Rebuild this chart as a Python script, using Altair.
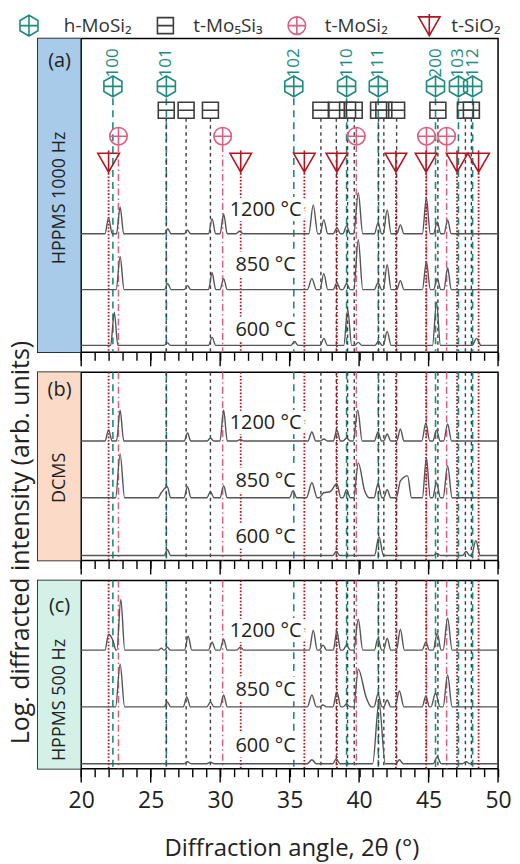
import altair as alt
import pandas as pd

FONT = "Open Sans, Noto Sans, DejaVu Sans, sans-serif"

# ---------------- data ----------------
PHASES = ["h-MoSi₂", "t-Mo₅Si₃", "t-MoSi₂", "t-SiO₂"]
H_MOSI2_POS = [22.28, 26.13, 35.3, 39.1, 41.38, 45.5, 47.15, 48.17]
H_MOSI2_HKL = ["100", "101", "102", "110", "111", "200", "103", "112"]
MO5SI3_POS = [26.12, 27.55, 29.3, 37.25, 38.36, 39.17, 39.65, 41.4, 41.78, 42.7, 45.67, 47.65, 48.08]
T_MOSI2_POS = [22.68, 30.18, 39.8, 44.85, 46.3]
SIO2_POS = [21.97, 31.48, 36.06, 38.4, 42.65, 44.82, 47.05, 48.6]
PHASE_POS = dict(zip(PHASES, [H_MOSI2_POS, MO5SI3_POS, T_MOSI2_POS, SIO2_POS]))

PANELS = ["a", "b", "c"]
PANEL_NAMES = {"a": "HPPMS 1000 Hz", "b": "DCMS", "c": "HPPMS 500 Hz"}
TEMPS = ["1200 °C", "850 °C", "600 °C"]
MAJOR_TICKS = [20, 25, 30, 35, 40, 45, 50]
ALL_TICKS = list(range(20, 51))

# peaks: (2θ, intensity above own baseline, half width)
A_1200 = [(21.97, 16, .2), (22.8, 27, .2), (26.23, 5, .18), (27.65, 3.5, .18), (29.42, 15, .2),
          (30.25, 20, .2), (31.4, 2.5, .2), (36.7, 29, .25), (37.46, 14, .22), (38.4, 6, .2),
          (39.1, 8, .2), (39.94, 41, .25), (41.36, 11, .2), (42.02, 24, .22), (42.97, 9, .2),
          (44.84, 36, .22), (45.62, 12, .2), (46.37, 14, .2)]
A_850 = [(22.8, 33, .22), (26.23, 6, .18), (27.65, 4, .18), (29.42, 17, .2), (30.25, 11, .2),
         (36.6, 11, .25), (37.46, 16, .22), (38.4, 7, .2), (39.1, 6, .2), (39.94, 50, .25),
         (41.36, 7, .2), (42.02, 25, .22), (42.97, 9, .2), (44.84, 28, .22), (45.62, 11, .2),
         (46.37, 22, .2)]
A_600 = [(22.38, 33, .2), (26.2, 2.5, .18), (29.42, 8, .2), (35.35, 4, .2), (37.46, 7, .2),
         (39.18, 36, .22), (39.94, 3, .2), (41.4, 4, .2), (42.02, 14, .22), (45.57, 43, .22),
         (48.45, 7, .25)]
B_1200 = [(21.97, 11, .2), (22.8, 31, .2), (27.65, 8, .18), (29.3, 3, .18), (30.25, 31, .2),
          (31.45, 1.5, .2), (36.6, 9, .22), (37.46, 2, .2), (38.4, 11, .2), (39.1, 3, .2),
          (39.9, 31, .25), (41.36, 9, .2), (42.02, 7, .2), (42.97, 12, .2), (44.8, 18, .22),
          (45.57, 11, .2), (46.37, 17, .22)]
B_850 = [(22.8, 44, .25), (25.76, 5, .18), (26.2, 11, .18), (27.65, 11, .2), (29.3, 6, .2),
         (30.25, 12, .2), (35.25, 7, .2), (36.6, 15, .3), (37.46, 5, .25), (37.9, 6, .2),
         (38.4, 14, .22), (39.1, 8, .2), (39.94, 35, .25), (40.4, 7, .25), (41.36, 14, .22),
         (42.02, 8, .2), (42.97, 17, .22), (43.49, 22, .22), (44.84, 40, .22), (45.57, 15, .22),
         (46.37, 32, .25)]
B_600 = [(26.2, 6, .18), (38.36, 4, .2), (41.43, 19, .25), (45.6, 2, .2), (47.7, 4, .2),
         (48.4, 15, .25)]
C_1200 = [(21.97, 16, .2), (22.3, 9, .15), (22.85, 51, .22), (25.76, 2, .15), (26.2, 3, .15),
          (27.7, 14, .2), (29.42, 8, .2), (30.25, 11, .2), (31.45, 3, .2), (36.7, 20, .22),
          (37.4, 5, .2), (38.4, 19, .2), (39.1, 5, .2), (39.94, 31, .25), (41.36, 12, .2),
          (42.02, 12, .2), (42.97, 21, .22), (44.8, 8, .2), (45.62, 17, .22), (46.37, 32, .25)]
C_850 = [(22.8, 43, .25), (26.2, 5, .18), (27.6, 10, .2), (29.3, 5, .2), (30.25, 12, .2),
         (36.6, 12, .25), (37.4, 2, .2), (38.4, 15, .22), (39.1, 3, .2), (39.94, 38, .25),
         (40.5, 10, .3), (41.36, 13, .22), (42.02, 7, .2), (42.9, 16, .25), (44.8, 11, .2),
         (45.5, 14, .25), (46.37, 32, .25)]
C_600 = [(27.65, 2, .2), (29.3, 1.5, .2), (36.6, 4, .25), (38.36, 5, .2), (41.43, 62, .35),
         (42.9, 4, .2), (45.62, 7, .22), (47.7, 2, .2)]

PEAKS = {
    ("a", "1200 °C"): A_1200, ("a", "850 °C"): A_850, ("a", "600 °C"): A_600,
    ("b", "1200 °C"): B_1200, ("b", "850 °C"): B_850, ("b", "600 °C"): B_600,
    ("c", "1200 °C"): C_1200, ("c", "850 °C"): C_850, ("c", "600 °C"): C_600,
}

# ---------------- layout / style ----------------
W = 462
STRIP_W = 43.5
PX_PER_DEG = (W - STRIP_W) / 30
X0 = 20 - STRIP_W / PX_PER_DEG
STRIP_X = 20 - STRIP_W / 2 / PX_PER_DEG
YTITLE_X = 20 - (STRIP_W + 29) / PX_PER_DEG
PEAK_W = 1.3
PANEL_H = {"a": 315, "b": 189, "c": 189}
OFFSET = {"a": [119, 63, 7], "b": [120, 63, 5], "c": [119, 62, 5]}
TEMP_X = 33.27
TEMP_Y = {"a": [142.5, 87.5, 22.5], "b": [138.5, 79.5, 23.5], "c": [138.5, 78.5, 22.5]}
LETTER_Y = {"a": 292, "b": 171, "c": 163}
NAME_Y = {"a": 155, "b": 83, "c": 69}
STRIP_COL = {"a": "#a7cbe8", "b": "#fbdbc7", "c": "#d3f1e6"}
# legend row (placed above panel a, in its coordinates)
LEG_SYM_X = [16.24, 26.06, 35.52, 45.05]
LEG_LAB_X = [18.75, 28.06, 37.53, 46.63]
LEG_DY = 13

TEAL, GRAY, PINK, RED = "#1d8b80", "#3d3d3d", "#dc5f80", "#b3141e"
COLORS = [TEAL, GRAY, PINK, RED]
LINE_STYLE = {
    "h-MoSi₂": dict(color=TEAL, strokeDash=[7, 5], strokeWidth=1.6),
    "t-Mo₅Si₃": dict(color=GRAY, strokeDash=[3.5, 3.5], strokeWidth=1.4),
    "t-MoSi₂": dict(color=PINK, strokeDash=[7, 3, 1.5, 3], strokeWidth=1.5),
    "t-SiO₂": dict(color=RED, strokeDash=[1.6, 1.8], strokeWidth=1.8),
}
HEX = "M0,-1.3L1.13,-0.65L1.13,0.65L0,1.3L-1.13,0.65L-1.13,-0.65Z M0,-1.3L0,1.3 M-1.13,0L1.13,0"
SQR = "M-1,-1L1,-1L1,1L-1,1Z M-1,0L1,0"
CIR = "M-1.1,0A1.1,1.1,0,1,0,1.1,0A1.1,1.1,0,1,0,-1.1,0Z M-1.1,0L1.1,0 M0,-1.1L0,1.1"
TRI = "M-1.35,-1.1L1.35,-1.1L0,1.25Z M0,-1.45L0,1.25"
PATHS = [HEX, SQR, CIR, TRI]
MARKER_Y = {"h-MoSi₂": 267, "t-Mo₅Si₃": 243, "t-MoSi₂": 217, "t-SiO₂": 191}
LINE_TOP_A = {"h-MoSi₂": 255, "t-Mo₅Si₃": 235, "t-MoSi₂": 208, "t-SiO₂": 180}
HKL_Y = 276
YTITLE_Y = 18


def build(peaks):
    pk = [(c, h, w * PEAK_W) for c, h, w in peaks]
    pts = [(20.0, 0.0), (50.0, 0.0)]
    for c, h, w in pk:
        pts.append((c, h))
        for b in (c - w, c + w):
            inside = any(c2 - w2 < b < c2 + w2 for c2, _, w2 in pk if c2 != c)
            if not inside:
                pts.append((b, 0.0))
    pts.sort()
    return pts


rows = []
for (p, t), pk in PEAKS.items():
    off = OFFSET[p][TEMPS.index(t)]
    for x, v in build(pk):
        rows.append({"panel": p, "temp": t, "x": x, "y": v + off})
curve_df = pd.DataFrame(rows)


def xaxis(p):
    common = dict(values=ALL_TICKS, tickSize=8, tickColor="black", tickWidth=1.4,
                  domain=False, grid=False)
    if p == "c":
        return alt.Axis(**common, labels=True,
                        labelExpr="datum.value % 5 === 0 ? datum.label : ''",
                        labelFont=FONT, labelFontSize=23, labelColor="#222", labelPadding=13,
                        labelFlush=False, labelOverlap=False,
                        title="Diffraction angle, 2θ (°)", titleFont=FONT, titleFontSize=24,
                        titleFontWeight="normal", titleColor="#222", titleX=254.5, titleY=80,
                        titleBaseline="middle", titleAlign="center")
    return alt.Axis(**common, labels=False, title=None)


COLOR_SCALE = alt.Scale(domain=PHASES, range=COLORS)
SHAPE_SCALE = alt.Scale(domain=PHASES, range=PATHS)


def panel(p):
    H = PANEL_H[p]
    xs = alt.Scale(domain=[X0, 50], nice=False, zero=False)
    ys = alt.Scale(domain=[0, H], nice=False, zero=False)
    ax = xaxis(p)

    def X(f):
        return alt.X(f, scale=xs, axis=ax, title=ax.title if p == "c" else None)

    def Y(f):
        return alt.Y(f, scale=ys, axis=None)

    layers = []
    layers.append(alt.Chart(pd.DataFrame({"k": [0]})).mark_rect(color=STRIP_COL[p]).encode(
        x=alt.value(0), x2=alt.value(STRIP_W), y=alt.value(0), y2=alt.value(H)))
    layers.append(alt.Chart(pd.DataFrame({"x": [20]})).mark_rule(color="black", strokeWidth=1.4).encode(
        x=X("x:Q")))
    # longer major ticks
    layers.append(alt.Chart(pd.DataFrame({"x": MAJOR_TICKS})).mark_rule(color="black", strokeWidth=1.4).encode(
        x=X("x:Q"), y=alt.value(H), y2=alt.value(H + 14)))

    for ph in PHASES:
        pos = PHASE_POS[ph]
        df = pd.DataFrame({"x": pos, "top": [LINE_TOP_A[ph]] * len(pos), "bot": [0] * len(pos)})
        enc = dict(x=X("x:Q"))
        if p == "a":
            enc.update(y=Y("top:Q"), y2="bot:Q")
        layers.append(alt.Chart(df).mark_rule(**LINE_STYLE[ph]).encode(**enc))

    tl = pd.DataFrame({"temp": TEMPS, "x": [TEMP_X] * 3, "y": TEMP_Y[p]})
    layers.append(alt.Chart(tl).mark_text(font=FONT, fontSize=20, color="white", stroke="white",
                                          strokeWidth=11, strokeJoin="round").encode(
        x=X("x:Q"), y=Y("y:Q"), text="temp:N"))
    layers.append(alt.Chart(tl).mark_text(font=FONT, fontSize=20, color="#222").encode(
        x=X("x:Q"), y=Y("y:Q"), text="temp:N"))

    layers.append(alt.Chart(curve_df[curve_df.panel == p]).mark_line(
        color="#555555", strokeWidth=1.4, interpolate="monotone").encode(
        x=X("x:Q"), y=Y("y:Q"), detail="temp:N"))

    st = pd.DataFrame({"x": [STRIP_X, STRIP_X], "y": [LETTER_Y[p], NAME_Y[p]],
                       "t": [f"({p})", PANEL_NAMES[p]]})
    layers.append(alt.Chart(st.iloc[[0]]).mark_text(font=FONT, fontSize=20, color="#222").encode(
        x=X("x:Q"), y=Y("y:Q"), text="t:N"))
    layers.append(alt.Chart(st.iloc[[1]]).mark_text(font=FONT, fontSize=18, color="#222", angle=270,
                                                     align="center", baseline="middle").encode(
        x=X("x:Q"), y=Y("y:Q"), text="t:N"))

    if p == "a":
        mk_rows = []
        for ph in PHASES:
            for x in PHASE_POS[ph]:
                mk_rows.append({"phase": ph, "x": x, "y": MARKER_Y[ph]})
        mk = pd.DataFrame(mk_rows)
        layers.append(alt.Chart(mk).mark_point(size=256, strokeWidth=1.6, opacity=1, filled=False).encode(
            x=X("x:Q"), y=Y("y:Q"),
            color=alt.Color("phase:N", scale=COLOR_SCALE, legend=None),
            shape=alt.Shape("phase:N", scale=SHAPE_SCALE, legend=None)))
        hk = pd.DataFrame({"x": H_MOSI2_POS, "hkl": H_MOSI2_HKL, "y": [HKL_Y] * len(H_MOSI2_POS)})
        layers.append(alt.Chart(hk).mark_text(font=FONT, fontSize=17, color=TEAL, angle=270,
                                              align="left", baseline="middle").encode(
            x=X("x:Q"), y=Y("y:Q"), text="hkl:N"))
        # legend row above the panel
        lg = pd.DataFrame({"phase": PHASES, "x": LEG_SYM_X, "lx": LEG_LAB_X, "y": [H + LEG_DY] * 4})
        layers.append(alt.Chart(lg).mark_point(size=256, strokeWidth=1.6, opacity=1, filled=False).encode(
            x=X("x:Q"), y=Y("y:Q"),
            color=alt.Color("phase:N", scale=COLOR_SCALE, legend=None),
            shape=alt.Shape("phase:N", scale=SHAPE_SCALE, legend=None)))
        layers.append(alt.Chart(lg.drop(columns=["x"]).rename(columns={"lx": "x"})).mark_text(
            font=FONT, fontSize=19, color="#333", align="left", baseline="middle").encode(
            x=X("x:Q"), y=Y("y:Q"), text="phase:N"))

    if p == "b":
        yt = pd.DataFrame({"x": [YTITLE_X], "y": [YTITLE_Y], "t": ["Log. diffracted intensity (arb. units)"]})
        layers.append(alt.Chart(yt).mark_text(font=FONT, fontSize=25, color="#222", angle=270,
                                              align="center", baseline="top").encode(
            x=X("x:Q"), y=Y("y:Q"), text="t:N"))

    return alt.layer(*layers).properties(width=W, height=H)


chart = alt.vconcat(*[panel(p) for p in PANELS], spacing=20, bounds="flush").properties(
    padding=0).configure_view(stroke="black", strokeWidth=1.5)

chart.save("out.html", embed_options={"renderer": "svg", "actions": False})
